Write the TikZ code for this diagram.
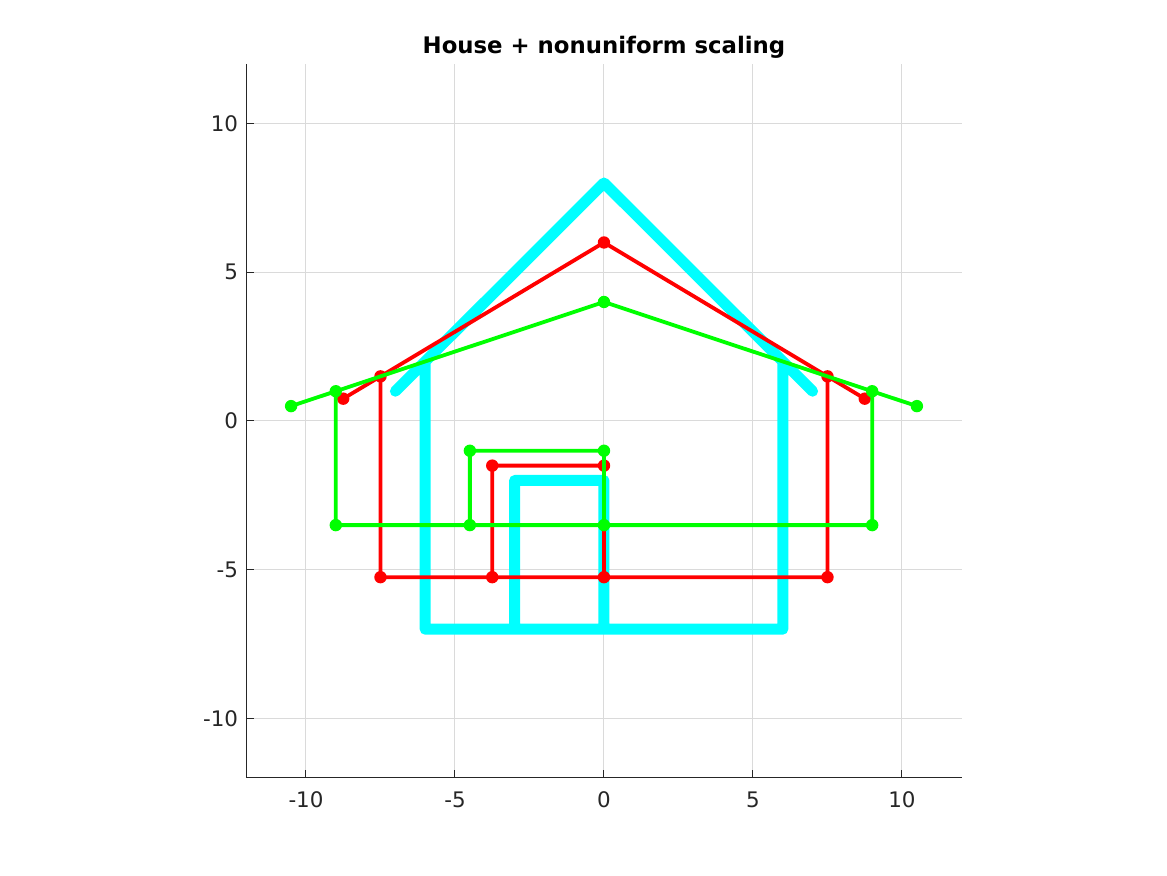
\documentclass[tikz,border=0pt]{standalone}
\usepackage{fontspec}
\setmainfont{DejaVu Sans}
\definecolor{origC}{HTML}{00FFFF}
\definecolor{scaleR}{HTML}{FF0000}
\definecolor{scaleG}{HTML}{00FF00}
\definecolor{axisink}{HTML}{262626}
\definecolor{gridln}{HTML}{DADADA}
% house outline, #1 = x factor, #2 = y factor
\newcommand{\housepath}[2]{({-7*#1},{1*#2}) -- (0,{8*#2}) -- ({7*#1},{1*#2})
  ({-6*#1},{2*#2}) -- ({-6*#1},{-7*#2}) -- ({6*#1},{-7*#2}) -- ({6*#1},{2*#2})
  ({-3*#1},{-7*#2}) -- ({-3*#1},{-2*#2}) -- (0,{-2*#2}) -- (0,{-7*#2})}
\newcommand{\housedots}[3]{%
  \foreach \px/\py in {-7/1,0/8,7/1,-6/2,-6/-7,6/-7,6/2,-3/-7,-3/-2,0/-2,0/-7}
    \fill[#3] ({\px*#1},{\py*#2}) circle[radius=3.1pt];}

\begin{document}
\begin{tikzpicture}[x=14.9pt,y=14.875pt,
  orig/.style={draw=origC,line width=5.5pt,line cap=round,line join=round},
  scaledln/.style={line width=1.9pt,line join=round},
  ticklab/.style={font=\fontsize{10.7}{12}\selectfont,text=axisink,inner sep=0pt}]
\useasboundingbox (-20.268,-15.261) rectangle (18.893,14.151);
% grid
\foreach \v in {-10,-5,0,5,10} {
  \draw[gridln,line width=0.5pt] (\v,-12) -- (\v,12);
  \draw[gridln,line width=0.5pt] (-12,\v) -- (12,\v);
}
% axes
\draw[axisink,line width=0.5pt] (-12,12) -- (-12,-12) -- (12,-12);
\foreach \v in {-10,-5,0,5,10} {
  \draw[axisink,line width=0.5pt] (\v,-12) -- (\v,-11.73);
  \draw[axisink,line width=0.5pt] (-12,\v) -- (-11.73,\v);
  \node[ticklab,anchor=north,yshift=-6.5pt] (xl\v) at (\v,-12) {\v};
  \node[ticklab,anchor=east,xshift=-4pt] (yl\v) at (-12,\v) {\v};
}
\node[font=\fontsize{11.4}{13}\selectfont\bfseries] (title) at (0,12.57) {House + nonuniform scaling};
% houses
\draw[orig] \housepath{1}{1};
\draw[scaledln,scaleR] \housepath{1.25}{0.75};
\housedots{1.25}{0.75}{scaleR}
\draw[scaledln,scaleG] \housepath{1.5}{0.5};
\housedots{1.5}{0.5}{scaleG}
\end{tikzpicture}
\end{document}
